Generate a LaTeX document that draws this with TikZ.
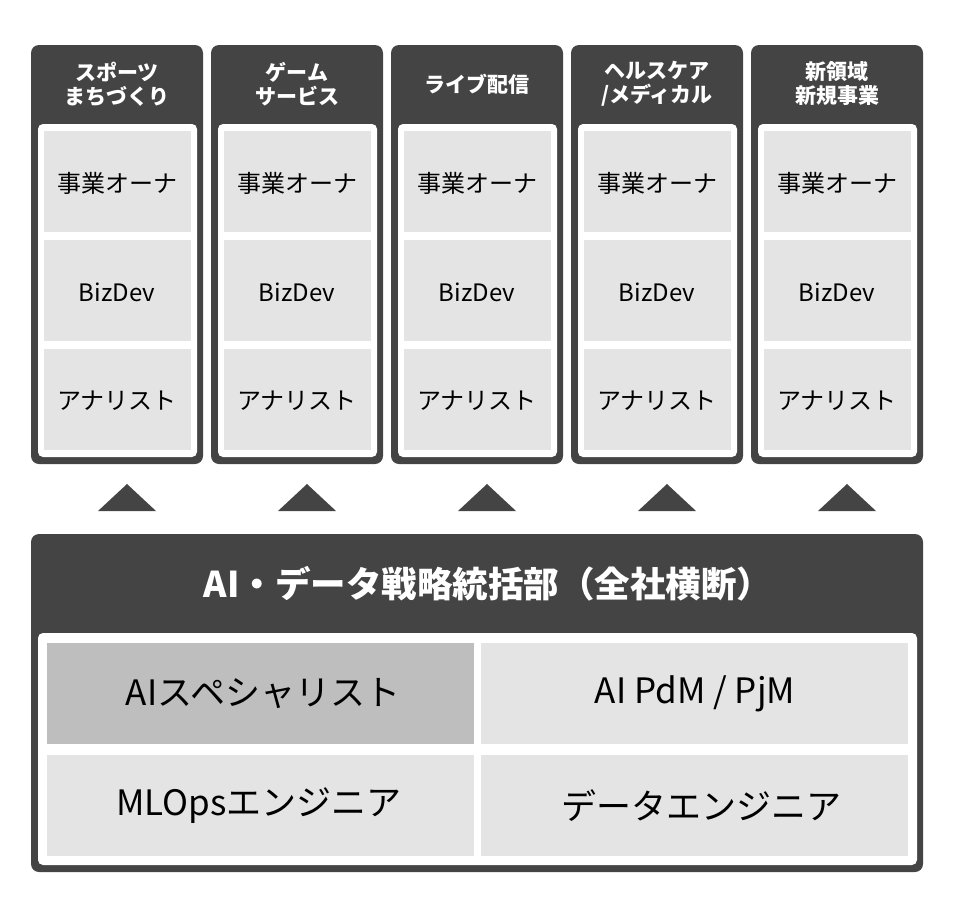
\documentclass[tikz,border=0pt]{standalone}
\usepackage{fontspec}
\setmainfont{Noto Sans CJK JP}
\definecolor{panel}{HTML}{444444}
\definecolor{cellgray}{HTML}{E4E4E4}
\definecolor{cellmid}{HTML}{BEBEBE}
\tikzset{
  headtext/.style={text=white,font=\bfseries\fontsize{21}{24}\selectfont,align=center},
  roletext/.style={font=\fontsize{24}{28}\selectfont},
  titletext/.style={text=white,font=\bfseries\fontsize{35.5}{40}\selectfont},
  teamtext/.style={font=\fontsize{35}{40}\selectfont},
}
\begin{document}
\begin{tikzpicture}[x=1pt,y=-1pt]
  \useasboundingbox (0,0) rectangle (954,906);

  % business units
  \foreach \h [count=\i from 0] in {{スポーツ\\まちづくり},{ゲーム\\サービス},{ライブ配信},{ヘルスケア\\/メディカル},{新領域\\新規事業}} {
    \pgfmathsetmacro{\xl}{31+180*\i}
    \fill[panel,rounded corners=8pt] (\xl,45) rectangle ++(172,419);
    \fill[white,rounded corners=5pt] (\xl+7,124) rectangle ++(159,333);
    \node[headtext] (head\i) at (\xl+86,84) {\h};
    \foreach \r/\t [count=\j] in {131/事業オーナ,240/BizDev,349/アナリスト} {
      \fill[cellgray] (\xl+13,\r) rectangle ++(147,101);
      \node[roletext] (role\i\j) at (\xl+86,\r+52) {\t};
    }
    \fill[panel] (\xl+67,511)--(\xl+96,484)--(\xl+125,511)--cycle;
  }

  % cross-company department
  \fill[panel,rounded corners=8pt] (31,534) rectangle (923,872);
  \fill[white,rounded corners=5pt] (38,633) rectangle (917,865);
  \node[titletext] (dept) at (488,584) {AI・データ戦略統括部（全社横断）};

  \fill[cellmid] (47,643) rectangle (474,744);
  \fill[cellgray] (481,643) rectangle (908,744);
  \fill[cellgray] (47,755) rectangle (474,856);
  \fill[cellgray] (481,755) rectangle (908,856);
  \node[teamtext] (aisp) at (263,694) {AIスペシャリスト};
  \node[teamtext] (pdm) at (695,694) {AI PdM / PjM};
  \node[teamtext] (mlops) at (259,806) {MLOpsエンジニア};
  \node[teamtext] (daten) at (701,806) {データエンジニア};
\end{tikzpicture}
\end{document}
